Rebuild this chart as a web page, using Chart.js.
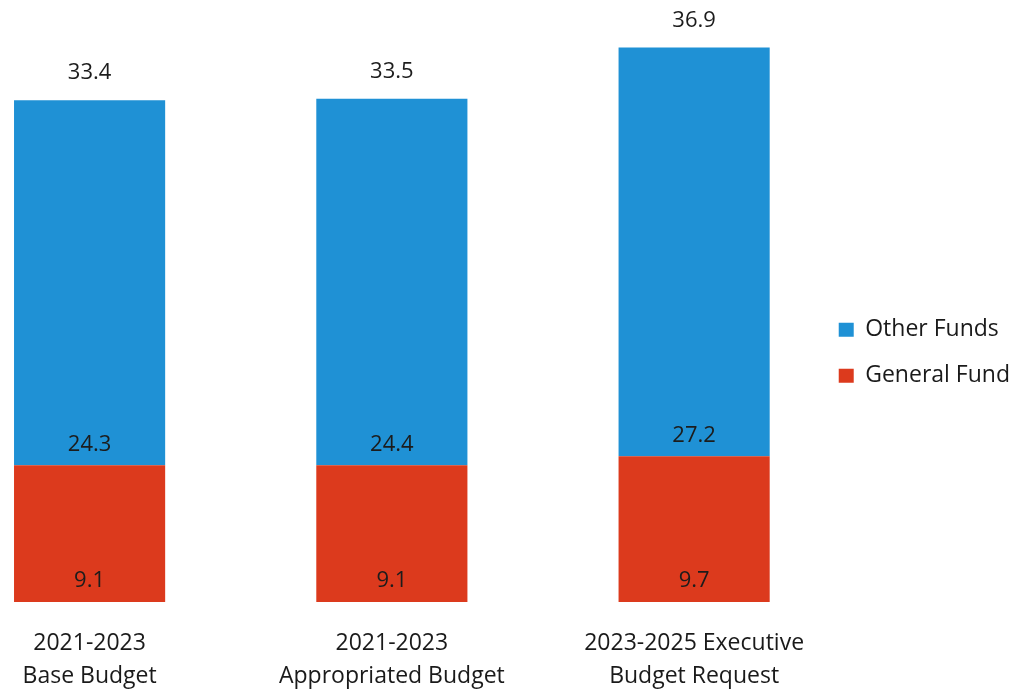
<!DOCTYPE html>
<html>
<head>
<meta charset="utf-8">
<script src="https://cdn.jsdelivr.net/npm/chart.js@4"></script>
<style>
  html, body { margin: 0; padding: 0; background: #fff; }
  #wrap { width: 1030px; height: 692px; }
</style>
</head>
<body>
<div id="wrap"><canvas id="budget-chart"></canvas></div>
<script>
// categories and values
const categories = [
    ['2021-2023', 'Base Budget'],
    ['2021-2023', 'Appropriated Budget'],
    ['2023-2025 Executive', 'Budget Request']
];
const generalFund = [9.1, 9.1, 9.7];
const otherFunds = [24.3, 24.4, 27.2];
const totals = [33.4, 33.5, 36.9];

const BLUE = '#1f91d5';
const RED = '#dc3a1d';
const FONT = 'Open Sans';

// writes each segment value near its base, and the total above the bar
const valueLabels = {
    id: 'valueLabels',
    afterDatasetsDraw(chart) {
        const ctx = chart.ctx;
        ctx.save();
        ctx.font = '22px "' + FONT + '"';
        ctx.fillStyle = '#1c1c1c';
        ctx.textAlign = 'center';
        ctx.textBaseline = 'middle';
        chart.data.datasets.forEach((ds, di) => {
            const meta = chart.getDatasetMeta(di);
            meta.data.forEach((bar, i) => {
                ctx.fillText(ds.data[i].y.toFixed(1), bar.x, bar.base - 21);
            });
        });
        const top = chart.getDatasetMeta(chart.data.datasets.length - 1);
        top.data.forEach((bar, i) => {
            ctx.fillText(totals[i].toFixed(1), bar.x, bar.y - 27);
        });
        ctx.restore();
    }
};

const toPoints = (arr) => arr.map((v, i) => ({ x: i, y: v }));

const canvas = document.getElementById('budget-chart');
new Chart(canvas, {
    type: 'bar',
    data: {
        datasets: [
            { label: 'General Fund', data: toPoints(generalFund), backgroundColor: RED },
            { label: 'Other Funds', data: toPoints(otherFunds), backgroundColor: BLUE }
        ]
    },
    options: {
        responsive: true,
        maintainAspectRatio: false,
        animation: false,
        categoryPercentage: 1,
        barPercentage: 0.5,
        layout: { padding: { top: 1, right: 10, bottom: 2, left: 0 } },
        scales: {
            x: {
                type: 'linear',
                stacked: true,
                min: -0.2964,
                max: 2.4023,
                offset: false,
                grid: { display: false, drawTicks: false },
                border: { display: false },
                afterBuildTicks: (scale) => {
                    scale.ticks = categories.map((c, i) => ({ value: i }));
                },
                afterFit: (scale) => {
                    scale.height = 88;
                    scale.paddingLeft = 0;
                    scale.paddingRight = 0;
                },
                ticks: {
                    autoSkip: false,
                    maxRotation: 0,
                    padding: 25,
                    color: '#1a1a1a',
                    font: { family: FONT, size: 23, lineHeight: 1.43 },
                    callback: (value) => categories[value]
                }
            },
            y: {
                stacked: true,
                display: false,
                min: 0,
                max: 40
            }
        },
        plugins: {
            tooltip: { enabled: false },
            legend: {
                position: 'right',
                reverse: true,
                title: { display: true, text: '', padding: 0, font: { size: 12, lineHeight: 1.2 } },
                labels: {
                    boxWidth: 15,
                    boxHeight: 14,
                    padding: 23,
                    color: '#1a1a1a',
                    font: { family: FONT, size: 23, lineHeight: 1 }
                }
            }
        }
    },
    plugins: [valueLabels]
});
</script>
</body>
</html>
